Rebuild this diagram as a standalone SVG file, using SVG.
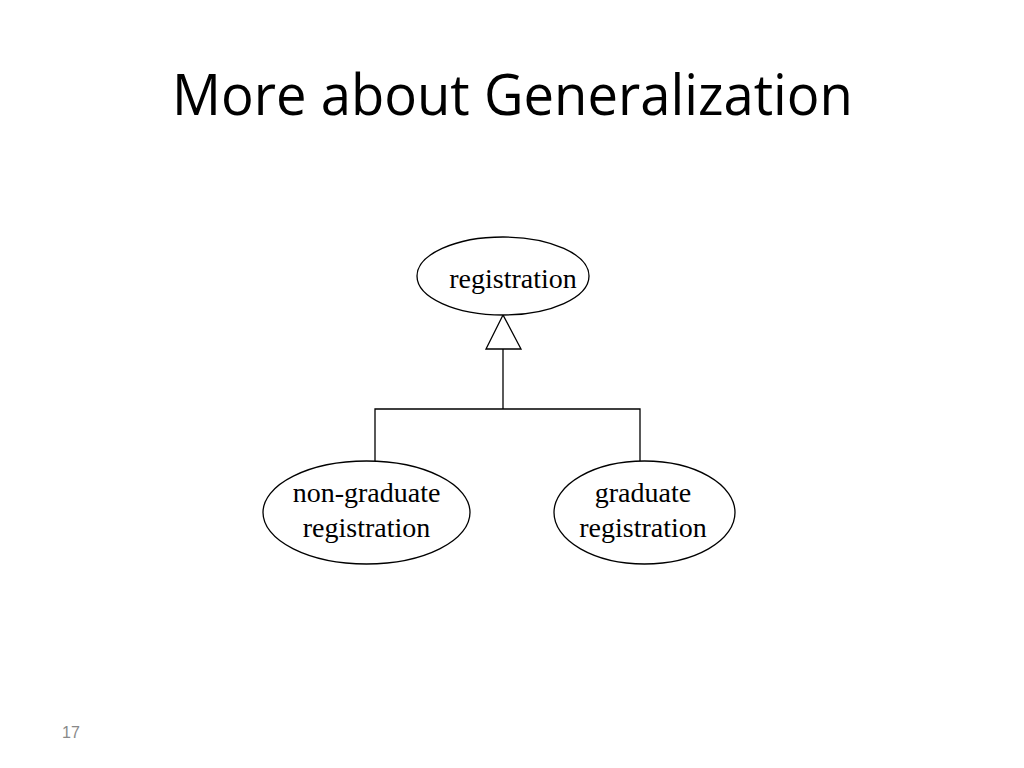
<svg xmlns="http://www.w3.org/2000/svg" width="1024" height="768" viewBox="0 0 1024 768">
<style>
.node{fill:#fff;stroke:#000;stroke-width:1.3}
.lbl{font-family:"Liberation Serif","Times New Roman",serif;font-size:28px;fill:#000;text-anchor:middle}
.conn{fill:none;stroke:#000;stroke-width:1.3}
</style>
<rect width="1024" height="768" fill="#fff"/>
<text x="172" y="115" font-family="'Open Sans','Liberation Sans',sans-serif" font-size="56" fill="#000" textLength="681" lengthAdjust="spacingAndGlyphs">More about Generalization</text>
<g id="connectors">
<polyline class="conn" points="375,461 375,409 640,409 640,461"/>
<line class="conn" x1="503" y1="409" x2="503" y2="349"/>
<polygon class="conn" points="503,315 486,349 521,349"/>
</g>
<g id="registration">
<ellipse class="node" cx="503" cy="276" rx="86" ry="39"/>
<text class="lbl" x="513" y="288">registration</text>
</g>
<g id="non-graduate-registration">
<ellipse class="node" cx="366.5" cy="512.5" rx="103.5" ry="51.5"/>
<text class="lbl" x="366.5" y="502">non-graduate</text>
<text class="lbl" x="366.5" y="537">registration</text>
</g>
<g id="graduate-registration">
<ellipse class="node" cx="644.5" cy="512.5" rx="90.5" ry="51.5"/>
<text class="lbl" x="643" y="502">graduate</text>
<text class="lbl" x="643" y="537">registration</text>
</g>
<text x="62" y="738" font-family="'Liberation Sans',Arial,sans-serif" font-size="16" fill="#898989">17</text>
</svg>
